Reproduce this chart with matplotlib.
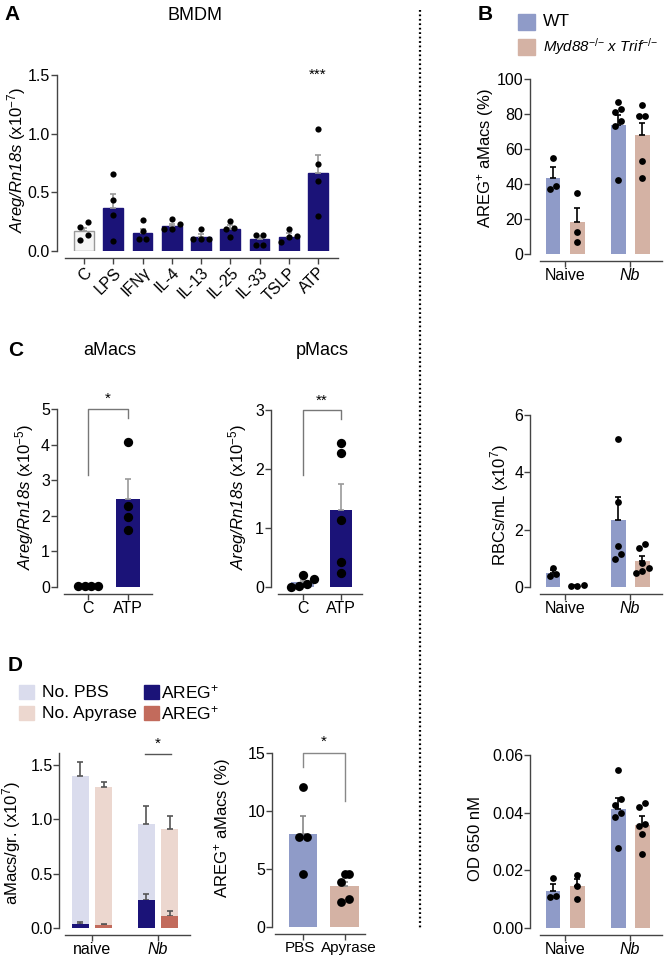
import numpy as np
import matplotlib.pyplot as plt
import matplotlib.transforms as mtransforms
from matplotlib.patches import Rectangle
from matplotlib.lines import Line2D

plt.rcParams['font.family'] = ['Liberation Sans', 'DejaVu Sans']
plt.rcParams['mathtext.fontset'] = 'custom'
plt.rcParams['mathtext.rm'] = 'Liberation Sans'
plt.rcParams['mathtext.it'] = 'Liberation Sans:italic'
# \mathbf is used as "italic incl. digits" (mathtext keeps digits upright in \mathit)
plt.rcParams['mathtext.bf'] = 'Liberation Sans:italic'
plt.rcParams['font.size'] = 11

# ---- data ----
A_cats = ['C', 'LPS', 'IFNγ', 'IL-4', 'IL-13', 'IL-25', 'IL-33', 'TSLP', 'ATP']
A_mean = [0.17, 0.37, 0.155, 0.215, 0.122, 0.19, 0.10, 0.122, 0.667]
A_sem = [0.03, 0.12, 0.03, 0.015, 0.025, 0.03, 0.03, 0.03, 0.155]
A_pts = [[0.25, 0.205, 0.134, 0.094], [0.656, 0.435, 0.31, 0.088],
         [0.26, 0.17, 0.10, 0.10], [0.27, 0.23, 0.19, 0.19],
         [0.185, 0.10, 0.10, 0.10], [0.255, 0.20, 0.185, 0.12],
         [0.14, 0.14, 0.05, 0.05], [0.19, 0.13, 0.12, 0.08],
         [1.037, 0.74, 0.594, 0.30]]

C_cats = ['C', 'ATP']
Ca_mean = [0.02, 2.48]
Ca_sem = [0.01, 0.55]
Ca_pts = [[0.02, 0.02, 0.02, 0.02], [4.07, 2.27, 1.97, 1.60]]
Cp_mean = [0.08, 1.30]
Cp_sem = [0.04, 0.45]
Cp_pts = [[0.20, 0.13, 0.05, 0.02, 0.0], [2.44, 2.27, 1.13, 0.42, 0.24]]

B_groups = ['Naive', 'Nb']
Bp_wt_mean = [43.7, 73.6]
Bp_wt_sem = [5.8, 6.0]
Bp_wt_pts = [[55, 39, 37], [87, 83, 81, 76, 73, 42]]
Bp_ko_mean = [18.0, 68.0]
Bp_ko_sem = [8.5, 6.7]
Bp_ko_pts = [[35, 12.4, 6.7], [85, 79, 79, 53, 43.7]]

Br_wt_mean = [0.50, 2.33]
Br_wt_sem = [0.10, 0.80]
Br_wt_pts = [[0.68, 0.45, 0.40], [5.16, 2.96, 1.43, 1.15, 0.98]]
Br_ko_mean = [0.05, 0.90]
Br_ko_sem = [0.02, 0.18]
Br_ko_pts = [[0.08, 0.05, 0.02], [1.50, 1.36, 0.84, 0.66, 0.49, 0.55]]

Bo_wt_mean = [0.0128, 0.0414]
Bo_wt_sem = [0.0024, 0.0036]
Bo_wt_pts = [[0.0173, 0.0112, 0.0107], [0.0548, 0.0448, 0.0428, 0.0400, 0.0385, 0.0276]]
Bo_ko_mean = [0.0144, 0.0357]
Bo_ko_sem = [0.0025, 0.0030]
Bo_ko_pts = [[0.0185, 0.0145, 0.0100], [0.0435, 0.0420, 0.0362, 0.0353, 0.0326, 0.0257]]

D_groups = ['naive', 'Nb']
D_tot_pbs = [1.40, 0.96]
D_tot_pbs_sem = [0.13, 0.16]
D_tot_apy = [1.30, 0.91]
D_tot_apy_sem = [0.04, 0.12]
D_areg_pbs = [0.04, 0.26]
D_areg_pbs_sem = [0.015, 0.05]
D_areg_apy = [0.025, 0.11]
D_areg_apy_sem = [0.01, 0.045]

D2_cats = ['PBS', 'Apyrase']
D2_mean = [8.05, 3.52]
D2_sem = [1.55, 0.35]
D2_pts = [[12.07, 7.76, 7.76, 4.57], [4.57, 4.60, 3.90, 2.15, 2.40]]

NAVY = '#1b1378'
LAV = '#8f9bc8'
TAN = '#d4b2a4'
PBS_L = '#dadced'
APY_L = '#ecd7cf'
CORAL = '#c26b5c'

W, H = 664, 955
fig = plt.figure(figsize=(W / 100, H / 100), dpi=100)

LBL = 12
TICK = 11.5


def add_ax(px0, px1, xlim, py0, py1, ylim, out_left=5, out_bot=5):
    # px0/px1: pixel of xlim ends, py0: pixel of ylim[0], py1: pixel of ylim[1]
    ax = fig.add_axes([px0 / W, 1 - py0 / H, (px1 - px0) / W, (py0 - py1) / H])
    ax.set_xlim(*xlim)
    ax.set_ylim(*ylim)
    ax.patch.set_alpha(0)
    for s in ['top', 'right']:
        ax.spines[s].set_visible(False)
    for s in ['left', 'bottom']:
        ax.spines[s].set_color('#444')
        ax.spines[s].set_linewidth(1)
    ax.spines['left'].set_position(('outward', out_left))
    ax.spines['bottom'].set_position(('outward', out_bot))
    ax.tick_params(direction='out', length=4, width=1, color='#444', labelsize=TICK, pad=1)
    return ax


def ftext(x, y, s, **kw):
    fig.text(x / W, 1 - y / H, s, **kw)


def swarm(vals, px_per_unit, d_px, dx):
    vals = np.asarray(vals, float)
    order = np.argsort(vals)
    offs = np.zeros(len(vals))
    rows = []
    for i in order:
        if rows and (vals[i] - vals[rows[-1][0]]) * px_per_unit < d_px:
            rows[-1].append(i)
        else:
            rows.append([i])
    for r in rows:
        for k, i in enumerate(r):
            offs[i] = (k - (len(r) - 1) / 2) * dx
    return offs


def dots(ax, x, vals, ppu, d_px, dx, s):
    offs = swarm(vals, ppu, d_px, dx)
    ax.scatter(x + offs, vals, s=s, color='black', zorder=4, clip_on=False, linewidths=0)


def err(ax, x, m, e, c, cap=2.5):
    ax.errorbar(x, m, yerr=[[0] * len(np.atleast_1d(m)), np.atleast_1d(e)], fmt='none',
                ecolor=c, elinewidth=1.2, capsize=cap, capthick=1.2, zorder=3)


# ---- panel A ----
ax = add_ax(65, 338.5, (-0.65, 8.7), 251, 75, (0, 1.5), out_left=6)
xa = np.arange(len(A_cats))
ax.bar(xa, A_mean, width=0.68, color=['#f5f5f5'] + [NAVY] * 8,
       edgecolor=['#999'] + [NAVY] * 8, linewidth=1)
err(ax, xa, A_mean, A_sem, '#999', cap=2)
for i, p in enumerate(A_pts):
    dots(ax, xa[i], p, 117, 6.5, 0.27, 20)
ax.set_yticks([0, 0.5, 1.0, 1.5])
ax.set_yticklabels(['0.0', '0.5', '1.0', '1.5'])
ax.set_xticks(xa)
ax.set_xticklabels(A_cats, rotation=45, ha='right', rotation_mode='anchor')
ax.text(8, 1.44, '***', ha='center', va='bottom', fontsize=11)
ftext(17, 160, r'$\mathbf{Areg/Rn18s}$ (x10$^{-7}$)', rotation=90, ha='center', va='center', fontsize=LBL)
ftext(4, 15, 'A', fontsize=15, fontweight='bold', ha='left', va='center')
ftext(195, 15, 'BMDM', fontsize=13, ha='center', va='center')

# ---- panel C ----
xc = np.arange(2)
ax = add_ax(64, 152, (-0.6, 1.6), 587, 409, (0, 5))
ax.bar(xc, Ca_mean, width=0.6, color=[LAV, NAVY])
err(ax, xc, Ca_mean, Ca_sem, '#999')
for i, p in enumerate(Ca_pts):
    dots(ax, xc[i], p, 35.6, 8.5, 0.17, 45)
ax.set_yticks(range(6))
ax.set_xticks(xc)
ax.set_xticklabels(C_cats)
ax.plot([0, 0, 1, 1], [3.15, 5, 5, 4.75], color='#777', lw=1, clip_on=False)
ax.text(0.5, 5.08, '*', ha='center', va='bottom', fontsize=11)
ftext(25, 497, r'$\mathbf{Areg/Rn18s}$ (x10$^{-5}$)', rotation=90, ha='center', va='center', fontsize=LBL)

ax = add_ax(278, 362, (-0.65, 1.55), 587, 410, (0, 3))
ax.bar(xc, Cp_mean, width=0.6, color=[LAV, NAVY])
err(ax, xc, Cp_mean, Cp_sem, '#999')
for i, p in enumerate(Cp_pts):
    dots(ax, xc[i], p, 59, 8.5, 0.2, 45)
ax.set_yticks(range(4))
ax.set_xticks(xc)
ax.set_xticklabels(C_cats)
ax.plot([0, 0, 1, 1], [1.9, 3, 3, 2.85], color='#777', lw=1, clip_on=False)
ax.text(0.5, 3.04, '**', ha='center', va='bottom', fontsize=11)
ftext(238, 497, r'$\mathbf{Areg/Rn18s}$ (x10$^{-5}$)', rotation=90, ha='center', va='center', fontsize=LBL)

ftext(8, 350, 'C', fontsize=15, fontweight='bold', ha='left', va='center')
ftext(110, 350, 'aMacs', fontsize=13, ha='center', va='center')
ftext(322, 350, 'pMacs', fontsize=13, ha='center', va='center')


# ---- panel B ----
def grouped(ax, wm, ws, wp, km, ks, kp, ppu):
    xg = np.arange(2)
    off = 0.185
    ax.bar(xg - off, wm, width=0.23, color=LAV)
    ax.bar(xg + off, km, width=0.23, color=TAN)
    err(ax, xg - off, wm, ws, 'black', cap=2.5)
    err(ax, xg + off, km, ks, 'black', cap=2.5)
    for i in range(2):
        dots(ax, xg[i] - off, wp[i], ppu, 6.5, 0.1, 24)
        dots(ax, xg[i] + off, kp[i], ppu, 6.5, 0.1, 24)
    ax.set_xticks(xg)
    ax.set_xticklabels(B_groups)
    ax.get_xticklabels()[1].set_fontstyle('italic')


bx = (-0.385, 1.49)
ax = add_ax(540, 662, bx, 254, 79, (0, 100), out_left=7)
grouped(ax, Bp_wt_mean, Bp_wt_sem, Bp_wt_pts, Bp_ko_mean, Bp_ko_sem, Bp_ko_pts, 1.75)
ax.set_yticks(range(0, 101, 20))
ax.text(1.13, 77, '*', ha='center', va='center', fontsize=9)
ftext(486, 158, r'AREG$^{+}$ aMacs (%)', rotation=90, ha='center', va='center', fontsize=LBL)

ax = add_ax(540, 662, bx, 587, 415, (0, 6), out_left=7)
grouped(ax, Br_wt_mean, Br_wt_sem, Br_wt_pts, Br_ko_mean, Br_ko_sem, Br_ko_pts, 28.7)
ax.set_yticks([0, 2, 4, 6])
ftext(500, 505, r'RBCs/mL (x10$^{7}$)', rotation=90, ha='center', va='center', fontsize=LBL)

ax = add_ax(540, 662, bx, 928, 755, (0, 0.06), out_left=7)
grouped(ax, Bo_wt_mean, Bo_wt_sem, Bo_wt_pts, Bo_ko_mean, Bo_ko_sem, Bo_ko_pts, 2883)
ax.set_yticks([0, 0.02, 0.04, 0.06])
ax.set_yticklabels(['0.00', '0.02', '0.04', '0.06'])
ftext(475, 838, 'OD 650 nM', rotation=90, ha='center', va='center', fontsize=LBL)

ftext(478, 15, 'B', fontsize=15, fontweight='bold', ha='left', va='center')
fig.add_artist(Rectangle((518 / W, 1 - 30 / H), 17 / W, 16 / H, transform=fig.transFigure, color=LAV))
fig.add_artist(Rectangle((518 / W, 1 - 55 / H), 17 / W, 16 / H, transform=fig.transFigure, color=TAN))
ftext(543, 22, 'WT', fontsize=12.5, ha='left', va='center')
ftext(543, 47, r'$\mathbf{Myd88}^{{-}/{-}}$ $\mathbf{x\ Trif}^{{-}/{-}}$', fontsize=10.8, ha='left', va='center')

# ---- panel D ----
xd = np.arange(2)
off = 0.18
ax = add_ax(65, 190, (-0.41, 1.485), 928, 753, (0, 1.61), out_left=4)
ax.bar(xd - off, D_tot_pbs, width=0.26, color=PBS_L)
ax.bar(xd + off, D_tot_apy, width=0.26, color=APY_L)
err(ax, xd - off, D_tot_pbs, D_tot_pbs_sem, '#555', cap=2)
err(ax, xd + off, D_tot_apy, D_tot_apy_sem, '#555', cap=2)
ax.bar(xd - off, D_areg_pbs, width=0.26, color=NAVY, zorder=3.5)
ax.bar(xd + off, D_areg_apy, width=0.26, color=CORAL, zorder=3.5)
err(ax, xd - off, D_areg_pbs, D_areg_pbs_sem, '#555', cap=2)
err(ax, xd + off, D_areg_apy, D_areg_apy_sem, '#555', cap=2)
ax.set_yticks([0, 0.5, 1.0, 1.5])
ax.set_yticklabels(['0.0', '0.5', '1.0', '1.5'])
ax.set_xticks(xd)
ax.set_xticklabels(D_groups)
ax.get_xticklabels()[1].set_fontstyle('italic')
ax.plot([0.80, 1.2], [1.60, 1.60], color='#555', lw=1, clip_on=False)
ax.text(1.0, 1.63, '*', ha='center', va='bottom', fontsize=11)
ftext(12, 843, r'aMacs/gr. (x10$^{7}$)', rotation=90, ha='center', va='center', fontsize=LBL)

ax = add_ax(275, 365, (-0.67, 1.48), 927, 753, (0, 15), out_left=2)
ax.bar(xd, D2_mean, width=0.69, color=[LAV, TAN])
err(ax, xd, D2_mean, D2_sem, '#888')
for i, p in enumerate(D2_pts):
    dots(ax, xd[i], p, 11.6, 8, 0.19, 40)
ax.set_yticks([0, 5, 10, 15])
ax.set_xticks(xd)
ax.set_xticklabels(D2_cats, fontsize=11)
for lab, dxp in zip(ax.get_xticklabels(), [-3, 4]):
    lab.set_transform(lab.get_transform() + mtransforms.ScaledTranslation(dxp / 100, 0, fig.dpi_scale_trans))
ax.plot([0, 0, 1, 1], [13.8, 15, 15, 10.9], color='#888', lw=1, clip_on=False)
ax.text(0.5, 15.35, '*', ha='center', va='bottom', fontsize=11)
ftext(223, 828, r'AREG$^{+}$ aMacs (%)', rotation=90, ha='center', va='center', fontsize=LBL)

ftext(8, 665, 'D', fontsize=15, fontweight='bold', ha='left', va='center')
for (cx, cy), c in zip([(26, 692), (26, 713), (151, 692), (151, 713)], [PBS_L, APY_L, NAVY, CORAL]):
    fig.add_artist(Rectangle(((cx - 7.5) / W, 1 - (cy + 7) / H), 15 / W, 14 / H,
                             transform=fig.transFigure, color=c))
ftext(42, 692, 'No. PBS', fontsize=12.5, ha='left', va='center')
ftext(42, 713, 'No. Apyrase', fontsize=12.5, ha='left', va='center')
ftext(161, 692, r'AREG$^{+}$', fontsize=12.5, ha='left', va='center')
ftext(161, 713, r'AREG$^{+}$', fontsize=12.5, ha='left', va='center')

# dotted separator
fig.add_artist(Line2D([420 / W, 420 / W], [1 - 10 / H, 1 - 928 / H], transform=fig.transFigure,
                      color='black', lw=1.6, linestyle=(0, (0.8, 1.2))))

fig.savefig('out.png', dpi=100)
